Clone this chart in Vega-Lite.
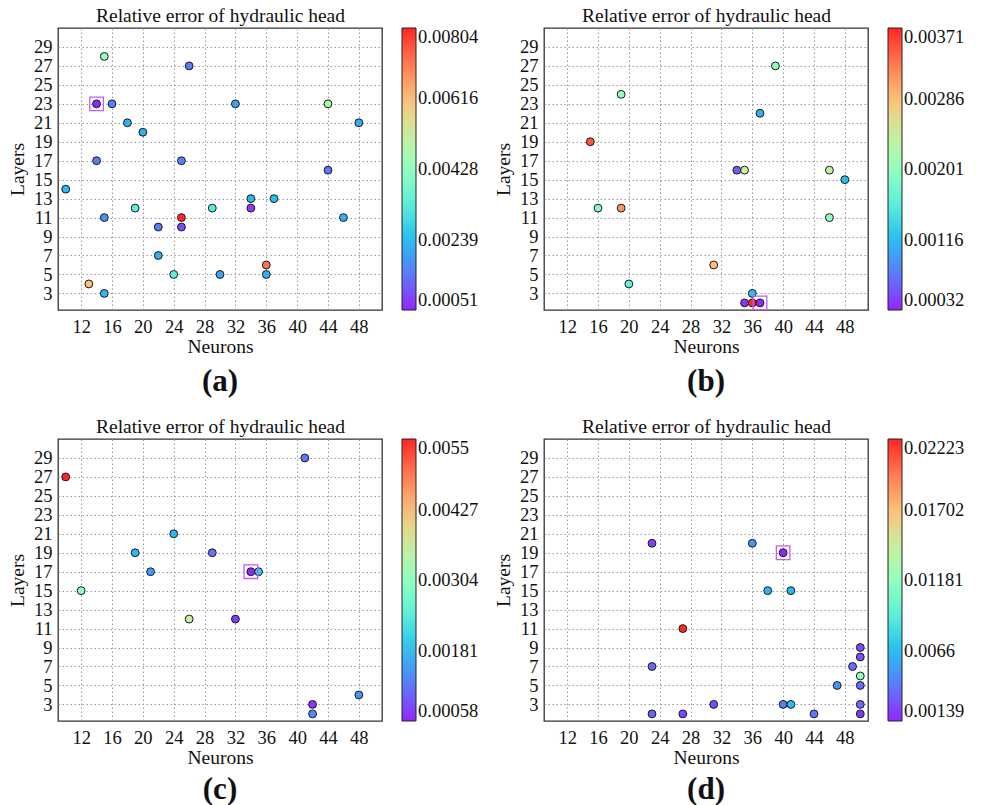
{
  "$schema": "https://vega.github.io/schema/vega-lite/v6.json",
  "background": "white",
  "padding": {"left": 6, "top": 4, "right": 0, "bottom": 0},
  "config": {
    "font": "Liberation Serif",
    "view": {"stroke": "#333333", "strokeWidth": 1.3},
    "axis": {
      "labelFont": "Liberation Serif",
      "labelFontSize": 18.5,
      "labelColor": "#111111",
      "titleFont": "Liberation Serif",
      "titleFontSize": 19.5,
      "titleFontWeight": "normal",
      "titleColor": "#111111",
      "grid": true,
      "gridColor": "#9a9a9a",
      "gridDash": [1.5, 2.5],
      "gridWidth": 1,
      "gridOpacity": 1,
      "domain": false,
      "ticks": false,
      "labelFlush": false,
      "labelOverlap": false,
      "labelPadding": 7
    },
    "axisX": {"titlePadding": 2},
    "axisY": {"titlePadding": 6, "labelPadding": 6},
    "legend": {
      "gradientThickness": 14,
      "gradientStrokeColor": "#222222",
      "gradientStrokeWidth": 1,
      "labelFont": "Liberation Serif",
      "labelFontSize": 18.5,
      "labelColor": "#111111",
      "labelOffset": 3,
      "labelBaseline": "middle",
      "labelOverlap": false,
      "offset": 20,
      "padding": 0
    },
    "title": {
      "font": "Liberation Serif",
      "color": "#111111",
      "anchor": "middle",
      "frame": "group"
    }
  },
  "datasets": {
    "a": [
      {"neurons": 15, "layers": 28, "err": 0.0043},
      {"neurons": 26, "layers": 27, "err": 0.00149},
      {"neurons": 14, "layers": 23, "err": 0.00051},
      {"neurons": 16, "layers": 23, "err": 0.00152},
      {"neurons": 32, "layers": 23, "err": 0.002},
      {"neurons": 44, "layers": 23, "err": 0.0047},
      {"neurons": 18, "layers": 21, "err": 0.00217},
      {"neurons": 48, "layers": 21, "err": 0.00212},
      {"neurons": 20, "layers": 20, "err": 0.0021},
      {"neurons": 14, "layers": 17, "err": 0.0015},
      {"neurons": 25, "layers": 17, "err": 0.00155},
      {"neurons": 44, "layers": 16, "err": 0.0014},
      {"neurons": 10, "layers": 14, "err": 0.00232},
      {"neurons": 34, "layers": 13, "err": 0.00228},
      {"neurons": 37, "layers": 13, "err": 0.0024},
      {"neurons": 19, "layers": 12, "err": 0.0033},
      {"neurons": 29, "layers": 12, "err": 0.00325},
      {"neurons": 34, "layers": 12, "err": 0.00072},
      {"neurons": 15, "layers": 11, "err": 0.00172},
      {"neurons": 25, "layers": 11, "err": 0.00804},
      {"neurons": 46, "layers": 11, "err": 0.00215},
      {"neurons": 22, "layers": 10, "err": 0.0015},
      {"neurons": 25, "layers": 10, "err": 0.0009},
      {"neurons": 22, "layers": 7, "err": 0.0021},
      {"neurons": 24, "layers": 5, "err": 0.00335},
      {"neurons": 30, "layers": 5, "err": 0.00205},
      {"neurons": 36, "layers": 6, "err": 0.00715},
      {"neurons": 36, "layers": 5, "err": 0.0022},
      {"neurons": 13, "layers": 4, "err": 0.00616},
      {"neurons": 15, "layers": 3, "err": 0.0023}
    ],
    "b": [
      {"neurons": 39, "layers": 27, "err": 0.002},
      {"neurons": 19, "layers": 24, "err": 0.00205},
      {"neurons": 37, "layers": 22, "err": 0.00107},
      {"neurons": 15, "layers": 19, "err": 0.00347},
      {"neurons": 34, "layers": 16, "err": 0.00059},
      {"neurons": 35, "layers": 16, "err": 0.00242},
      {"neurons": 46, "layers": 16, "err": 0.0024},
      {"neurons": 48, "layers": 15, "err": 0.00117},
      {"neurons": 16, "layers": 12, "err": 0.00188},
      {"neurons": 19, "layers": 12, "err": 0.00313},
      {"neurons": 46, "layers": 11, "err": 0.00198},
      {"neurons": 31, "layers": 6, "err": 0.00286},
      {"neurons": 20, "layers": 4, "err": 0.00162},
      {"neurons": 36, "layers": 3, "err": 0.00118},
      {"neurons": 35, "layers": 2, "err": 0.00039},
      {"neurons": 36, "layers": 2, "err": 0.00371},
      {"neurons": 37, "layers": 2, "err": 0.00032}
    ],
    "c": [
      {"neurons": 41, "layers": 29, "err": 0.00117},
      {"neurons": 10, "layers": 27, "err": 0.0055},
      {"neurons": 24, "layers": 21, "err": 0.00176},
      {"neurons": 19, "layers": 19, "err": 0.00174},
      {"neurons": 29, "layers": 19, "err": 0.00115},
      {"neurons": 21, "layers": 17, "err": 0.0015},
      {"neurons": 34, "layers": 17, "err": 0.00058},
      {"neurons": 35, "layers": 17, "err": 0.00196},
      {"neurons": 12, "layers": 15, "err": 0.003},
      {"neurons": 26, "layers": 12, "err": 0.00363},
      {"neurons": 32, "layers": 12, "err": 0.00073},
      {"neurons": 42, "layers": 3, "err": 0.0007},
      {"neurons": 42, "layers": 2, "err": 0.00137},
      {"neurons": 48, "layers": 4, "err": 0.0014}
    ],
    "d": [
      {"neurons": 23, "layers": 20, "err": 0.0022},
      {"neurons": 36, "layers": 20, "err": 0.0049},
      {"neurons": 40, "layers": 19, "err": 0.00139},
      {"neurons": 38, "layers": 15, "err": 0.0062},
      {"neurons": 41, "layers": 15, "err": 0.0063},
      {"neurons": 27, "layers": 11, "err": 0.02223},
      {"neurons": 50, "layers": 9, "err": 0.00245},
      {"neurons": 50, "layers": 8, "err": 0.0026},
      {"neurons": 49, "layers": 7, "err": 0.0037},
      {"neurons": 23, "layers": 7, "err": 0.0033},
      {"neurons": 50, "layers": 6, "err": 0.0118},
      {"neurons": 47, "layers": 5, "err": 0.0049},
      {"neurons": 50, "layers": 5, "err": 0.0036},
      {"neurons": 31, "layers": 3, "err": 0.0025},
      {"neurons": 40, "layers": 3, "err": 0.004},
      {"neurons": 41, "layers": 3, "err": 0.0066},
      {"neurons": 50, "layers": 3, "err": 0.0035},
      {"neurons": 23, "layers": 2, "err": 0.0033},
      {"neurons": 27, "layers": 2, "err": 0.0024},
      {"neurons": 44, "layers": 2, "err": 0.0039},
      {"neurons": 50, "layers": 2, "err": 0.0018}
    ]
  },
  "columns": 2,
  "spacing": {"column": 12, "row": 17},
  "resolve": {"scale": {"color": "independent", "x": "independent", "y": "independent"}},
  "concat": [
    {
      "width": 324, "height": 282,
      "title": {"text": "(a)", "orient": "bottom", "fontSize": 31, "fontWeight": "bold", "offset": 11},
      "data": {"name": "a"},
      "resolve": {"axis": {"x": "independent"}},
      "layer": [
        {
          "mark": {"type": "circle", "size": 62, "opacity": 1, "stroke": "#1a1a1a", "strokeWidth": 1},
          "encoding": {
            "x": {"field": "neurons", "type": "quantitative", "scale": {"domain": [9, 51], "nice": false, "zero": false},
                  "axis": {"title": "Neurons", "values": [12, 16, 20, 24, 28, 32, 36, 40, 44, 48]}},
            "y": {"field": "layers", "type": "quantitative", "scale": {"domain": [1.25, 31], "nice": false, "zero": false},
                  "axis": {"title": "Layers", "values": [3, 5, 7, 9, 11, 13, 15, 17, 19, 21, 23, 25, 27, 29]}},
            "color": {"field": "err", "type": "quantitative",
                      "scale": {"domain": [0.00051, 0.00145125, 0.0023925, 0.00333375, 0.004275, 0.00521625, 0.0061575, 0.00709875, 0.00804],
                                "range": ["#9326ff", "#5d7afb", "#26bfef", "#5defda", "#93ffbf", "#c9ef9f", "#ffbf7a", "#ff7a51", "#ff2626"],
                                "interpolate": "rgb"},
                      "legend": {"title": null, "gradientLength": 282, "values": [0.00051, 0.00239, 0.00428, 0.00616, 0.00804], "labelExpr": "format(datum.value, '.4~g')"}}
          }
        },
        {
          "transform": [
            {"joinaggregate": [{"op": "min", "field": "err", "as": "minErr"}]},
            {"filter": "datum.err == datum.minErr"}
          ],
          "mark": {"type": "point", "shape": "square", "size": 185, "filled": false, "stroke": "#c25cff", "strokeWidth": 1.3, "opacity": 1},
          "encoding": {
            "x": {"field": "neurons", "type": "quantitative", "scale": {"domain": [9, 51], "nice": false, "zero": false},
                  "axis": {"orient": "top", "title": "Relative error of hydraulic head", "labels": false, "grid": false, "titlePadding": 3}},
            "y": {"field": "layers", "type": "quantitative", "scale": {"domain": [1.25, 31], "nice": false, "zero": false},
                  "axis": {"title": "Layers", "values": [3, 5, 7, 9, 11, 13, 15, 17, 19, 21, 23, 25, 27, 29]}}
          }
        }
      ]
    },
    {
      "width": 324, "height": 282,
      "title": {"text": "(b)", "orient": "bottom", "fontSize": 31, "fontWeight": "bold", "offset": 11},
      "data": {"name": "b"},
      "resolve": {"axis": {"x": "independent"}},
      "layer": [
        {
          "mark": {"type": "circle", "size": 62, "opacity": 1, "stroke": "#1a1a1a", "strokeWidth": 1},
          "encoding": {
            "x": {"field": "neurons", "type": "quantitative", "scale": {"domain": [9, 51], "nice": false, "zero": false},
                  "axis": {"title": "Neurons", "values": [12, 16, 20, 24, 28, 32, 36, 40, 44, 48]}},
            "y": {"field": "layers", "type": "quantitative", "scale": {"domain": [1.25, 31], "nice": false, "zero": false},
                  "axis": {"title": "Layers", "values": [3, 5, 7, 9, 11, 13, 15, 17, 19, 21, 23, 25, 27, 29]}},
            "color": {"field": "err", "type": "quantitative",
                      "scale": {"domain": [0.00032, 0.00074375, 0.0011675, 0.00159125, 0.002015, 0.00243875, 0.0028625, 0.00328625, 0.00371],
                                "range": ["#9326ff", "#5d7afb", "#26bfef", "#5defda", "#93ffbf", "#c9ef9f", "#ffbf7a", "#ff7a51", "#ff2626"],
                                "interpolate": "rgb"},
                      "legend": {"title": null, "gradientLength": 282, "values": [0.00032, 0.00116, 0.00201, 0.00286, 0.00371], "labelExpr": "format(datum.value, '.4~g')"}}
          }
        },
        {
          "transform": [
            {"joinaggregate": [{"op": "min", "field": "err", "as": "minErr"}]},
            {"filter": "datum.err == datum.minErr"}
          ],
          "mark": {"type": "point", "shape": "square", "size": 185, "filled": false, "stroke": "#c25cff", "strokeWidth": 1.3, "opacity": 1},
          "encoding": {
            "x": {"field": "neurons", "type": "quantitative", "scale": {"domain": [9, 51], "nice": false, "zero": false},
                  "axis": {"orient": "top", "title": "Relative error of hydraulic head", "labels": false, "grid": false, "titlePadding": 3}},
            "y": {"field": "layers", "type": "quantitative", "scale": {"domain": [1.25, 31], "nice": false, "zero": false},
                  "axis": {"title": "Layers", "values": [3, 5, 7, 9, 11, 13, 15, 17, 19, 21, 23, 25, 27, 29]}}
          }
        }
      ]
    },
    {
      "width": 324, "height": 282,
      "title": {"text": "(c)", "orient": "bottom", "fontSize": 31, "fontWeight": "bold", "offset": 8},
      "data": {"name": "c"},
      "resolve": {"axis": {"x": "independent"}},
      "layer": [
        {
          "mark": {"type": "circle", "size": 62, "opacity": 1, "stroke": "#1a1a1a", "strokeWidth": 1},
          "encoding": {
            "x": {"field": "neurons", "type": "quantitative", "scale": {"domain": [9, 51], "nice": false, "zero": false},
                  "axis": {"title": "Neurons", "values": [12, 16, 20, 24, 28, 32, 36, 40, 44, 48]}},
            "y": {"field": "layers", "type": "quantitative", "scale": {"domain": [1.25, 31], "nice": false, "zero": false},
                  "axis": {"title": "Layers", "values": [3, 5, 7, 9, 11, 13, 15, 17, 19, 21, 23, 25, 27, 29]}},
            "color": {"field": "err", "type": "quantitative",
                      "scale": {"domain": [0.00058, 0.001195, 0.00181, 0.002425, 0.00304, 0.003655, 0.00427, 0.004885, 0.0055],
                                "range": ["#9326ff", "#5d7afb", "#26bfef", "#5defda", "#93ffbf", "#c9ef9f", "#ffbf7a", "#ff7a51", "#ff2626"],
                                "interpolate": "rgb"},
                      "legend": {"title": null, "gradientLength": 282, "values": [0.00058, 0.00181, 0.00304, 0.00427, 0.0055], "labelExpr": "format(datum.value, '.4~g')"}}
          }
        },
        {
          "transform": [
            {"joinaggregate": [{"op": "min", "field": "err", "as": "minErr"}]},
            {"filter": "datum.err == datum.minErr"}
          ],
          "mark": {"type": "point", "shape": "square", "size": 185, "filled": false, "stroke": "#c25cff", "strokeWidth": 1.3, "opacity": 1},
          "encoding": {
            "x": {"field": "neurons", "type": "quantitative", "scale": {"domain": [9, 51], "nice": false, "zero": false},
                  "axis": {"orient": "top", "title": "Relative error of hydraulic head", "labels": false, "grid": false, "titlePadding": 3}},
            "y": {"field": "layers", "type": "quantitative", "scale": {"domain": [1.25, 31], "nice": false, "zero": false},
                  "axis": {"title": "Layers", "values": [3, 5, 7, 9, 11, 13, 15, 17, 19, 21, 23, 25, 27, 29]}}
          }
        }
      ]
    },
    {
      "width": 324, "height": 282,
      "title": {"text": "(d)", "orient": "bottom", "fontSize": 31, "fontWeight": "bold", "offset": 8},
      "data": {"name": "d"},
      "resolve": {"axis": {"x": "independent"}},
      "layer": [
        {
          "mark": {"type": "circle", "size": 62, "opacity": 1, "stroke": "#1a1a1a", "strokeWidth": 1},
          "encoding": {
            "x": {"field": "neurons", "type": "quantitative", "scale": {"domain": [9, 51], "nice": false, "zero": false},
                  "axis": {"title": "Neurons", "values": [12, 16, 20, 24, 28, 32, 36, 40, 44, 48]}},
            "y": {"field": "layers", "type": "quantitative", "scale": {"domain": [1.25, 31], "nice": false, "zero": false},
                  "axis": {"title": "Layers", "values": [3, 5, 7, 9, 11, 13, 15, 17, 19, 21, 23, 25, 27, 29]}},
            "color": {"field": "err", "type": "quantitative",
                      "scale": {"domain": [0.00139, 0.003995, 0.0066, 0.009205, 0.01181, 0.014415, 0.01702, 0.019625, 0.02223],
                                "range": ["#9326ff", "#5d7afb", "#26bfef", "#5defda", "#93ffbf", "#c9ef9f", "#ffbf7a", "#ff7a51", "#ff2626"],
                                "interpolate": "rgb"},
                      "legend": {"title": null, "gradientLength": 282, "values": [0.00139, 0.0066, 0.01181, 0.01702, 0.02223], "labelExpr": "format(datum.value, '.4~g')"}}
          }
        },
        {
          "transform": [
            {"joinaggregate": [{"op": "min", "field": "err", "as": "minErr"}]},
            {"filter": "datum.err == datum.minErr"}
          ],
          "mark": {"type": "point", "shape": "square", "size": 185, "filled": false, "stroke": "#c25cff", "strokeWidth": 1.3, "opacity": 1},
          "encoding": {
            "x": {"field": "neurons", "type": "quantitative", "scale": {"domain": [9, 51], "nice": false, "zero": false},
                  "axis": {"orient": "top", "title": "Relative error of hydraulic head", "labels": false, "grid": false, "titlePadding": 3}},
            "y": {"field": "layers", "type": "quantitative", "scale": {"domain": [1.25, 31], "nice": false, "zero": false},
                  "axis": {"title": "Layers", "values": [3, 5, 7, 9, 11, 13, 15, 17, 19, 21, 23, 25, 27, 29]}}
          }
        }
      ]
    }
  ]
}
